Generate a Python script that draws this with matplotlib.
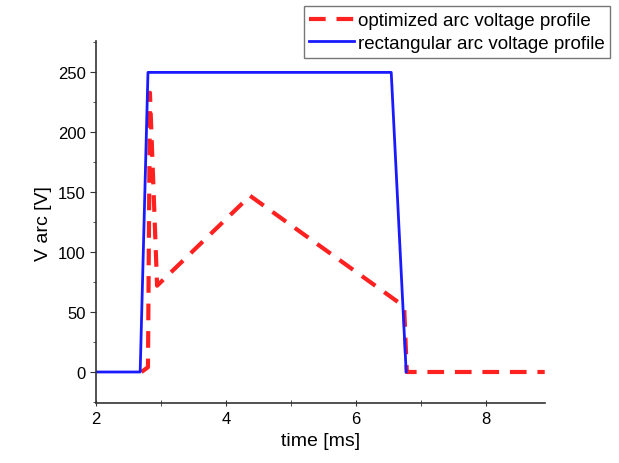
import matplotlib
matplotlib.use("Agg")
import matplotlib.pyplot as plt
from matplotlib.ticker import MultipleLocator

plt.rcParams['font.family'] = ['Liberation Sans', 'DejaVu Sans']

rect_t = [2.0, 2.68, 2.8, 6.54, 6.77]
rect_v = [0, 0, 250, 250, 0]

opt_t = [2.7, 2.8, 2.83, 2.94, 4.37, 6.68, 6.74, 6.78, 8.9]
opt_v = [0, 4, 233, 72, 147, 57, 52, 0, 0]

fig = plt.figure(figsize=(6.19, 4.64), dpi=100)
ax = fig.add_axes([0.155, 0.129, 0.725, 0.78])

ax.plot(opt_t, opt_v, color='#ff2020', lw=3, dashes=(4, 2.6), label='optimized arc voltage profile')
ax.plot(rect_t, rect_v, color='#1a1aff', lw=2, label='rectangular arc voltage profile')

ax.set_xlim(2, 8.9)
ax.set_ylim(-26, 276)
ax.xaxis.set_major_locator(MultipleLocator(2))
ax.xaxis.set_minor_locator(MultipleLocator(1))
ax.yaxis.set_major_locator(MultipleLocator(50))
ax.yaxis.set_minor_locator(MultipleLocator(25))
for s in ['top', 'right']:
    ax.spines[s].set_visible(False)
for s in ['left', 'bottom']:
    ax.spines[s].set_linewidth(1.2)
    ax.spines[s].set_color('#333333')
ax.tick_params(axis='y', which='major', direction='out', length=4, labelsize=12, color='#333333')
ax.tick_params(axis='y', which='minor', direction='out', length=2.5, color='#333333')
ax.tick_params(axis='x', which='major', direction='inout', length=5, labelsize=12, color='#333333')
ax.tick_params(axis='x', which='minor', direction='inout', length=4, color='#333333')
ax.set_xlabel('time [ms]', fontsize=14)
ax.set_ylabel('V arc [V]', fontsize=14)

leg = fig.legend(loc='upper right', bbox_to_anchor=(0.992, 0.992), fontsize=13.5,
                 frameon=True, fancybox=False, edgecolor='#555555',
                 handlelength=2.4, handletextpad=0.2, borderpad=0.3, labelspacing=0.3,
                 borderaxespad=0.2)
leg.get_frame().set_linewidth(1.0)

fig.savefig('out.png', dpi=100)
